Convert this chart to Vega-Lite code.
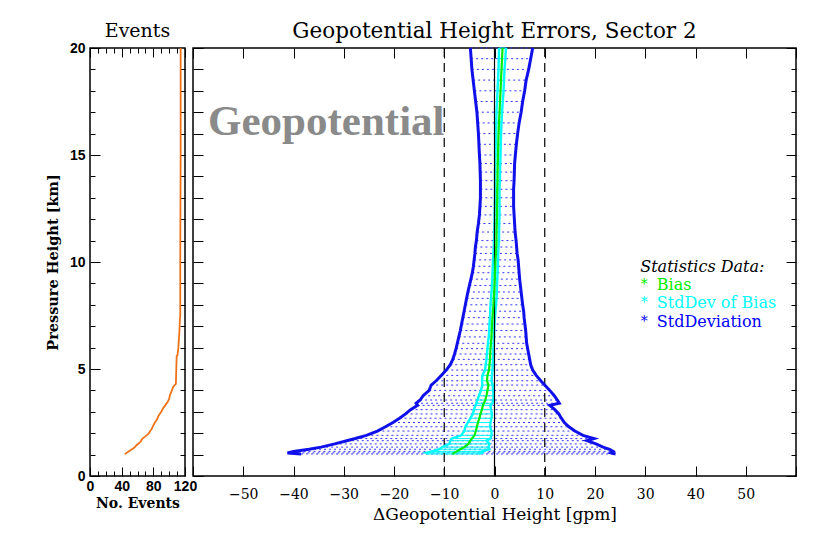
{
  "$schema": "https://vega.github.io/schema/vega-lite/v6.json",
  "background": "white",
  "padding": {"left": 44, "top": 19, "right": 5, "bottom": 5},
  "autosize": {"type": "pad"},
  "bounds": "flush",
  "spacing": 8,
  "config": {
    "view": {"stroke": "black", "strokeWidth": 1.5},
    "axis": {"domain": false, "grid": false, "tickColor": "black", "tickWidth": 1, "labelColor": "black", "titleColor": "black"},
    "title": {"font": "DejaVu Serif", "fontWeight": "normal", "color": "black", "anchor": "middle"}
  },
  "datasets": {
    "prof": [
      {"h": 20, "bl": -4.8, "br": 7.6, "cl": 0.9, "cr": 2.3, "b": 1.6},
      {"h": 19.5, "bl": -4.65, "br": 7.2, "cl": 0.85, "cr": 2.15, "b": 1.5},
      {"h": 19, "bl": -4.5, "br": 6.8, "cl": 0.8, "cr": 2.0, "b": 1.4},
      {"h": 18.5, "bl": -4.25, "br": 6.3, "cl": 0.7, "cr": 1.9, "b": 1.3},
      {"h": 18, "bl": -4.0, "br": 6.0, "cl": 0.6, "cr": 1.8, "b": 1.2},
      {"h": 17.5, "bl": -3.75, "br": 5.6, "cl": 0.5, "cr": 1.65, "b": 1.1},
      {"h": 17, "bl": -3.5, "br": 5.3, "cl": 0.4, "cr": 1.5, "b": 1.0},
      {"h": 16.5, "bl": -3.35, "br": 4.9, "cl": 0.35, "cr": 1.4, "b": 0.9},
      {"h": 16, "bl": -3.2, "br": 4.6, "cl": 0.3, "cr": 1.3, "b": 0.8},
      {"h": 15.5, "bl": -3.1, "br": 4.35, "cl": 0.25, "cr": 1.25, "b": 0.75},
      {"h": 15, "bl": -3.0, "br": 4.15, "cl": 0.2, "cr": 1.2, "b": 0.7},
      {"h": 14.6, "bl": -2.9, "br": 4.0, "cl": 0.15, "cr": 1.15, "b": 0.65},
      {"h": 14.2, "bl": -2.85, "br": 3.95, "cl": 0.1, "cr": 1.1, "b": 0.6},
      {"h": 13.8, "bl": -2.8, "br": 3.9, "cl": 0.1, "cr": 1.05, "b": 0.6},
      {"h": 13.4, "bl": -2.8, "br": 3.8, "cl": 0.1, "cr": 1.0, "b": 0.55},
      {"h": 13.0, "bl": -2.8, "br": 3.8, "cl": 0.1, "cr": 1.0, "b": 0.55},
      {"h": 12.6, "bl": -2.9, "br": 3.8, "cl": 0.05, "cr": 1.0, "b": 0.5},
      {"h": 12.2, "bl": -3.0, "br": 3.9, "cl": 0.0, "cr": 1.0, "b": 0.5},
      {"h": 11.8, "bl": -3.2, "br": 4.0, "cl": 0.0, "cr": 0.95, "b": 0.45},
      {"h": 11.4, "bl": -3.45, "br": 4.1, "cl": -0.05, "cr": 0.9, "b": 0.4},
      {"h": 11.0, "bl": -3.6, "br": 4.3, "cl": -0.1, "cr": 0.9, "b": 0.4},
      {"h": 10.7, "bl": -3.8, "br": 4.4, "cl": -0.15, "cr": 0.8, "b": 0.35},
      {"h": 10.4, "bl": -3.9, "br": 4.5, "cl": -0.2, "cr": 0.75, "b": 0.3},
      {"h": 10.1, "bl": -4.05, "br": 4.7, "cl": -0.3, "cr": 0.7, "b": 0.2},
      {"h": 9.8, "bl": -4.2, "br": 4.8, "cl": -0.35, "cr": 0.65, "b": 0.15},
      {"h": 9.5, "bl": -4.4, "br": 4.9, "cl": -0.4, "cr": 0.6, "b": 0.1},
      {"h": 9.2, "bl": -4.7, "br": 5.0, "cl": -0.45, "cr": 0.55, "b": 0.05},
      {"h": 8.9, "bl": -5.0, "br": 5.15, "cl": -0.5, "cr": 0.5, "b": 0.0},
      {"h": 8.6, "bl": -5.3, "br": 5.3, "cl": -0.6, "cr": 0.45, "b": -0.05},
      {"h": 8.3, "bl": -5.55, "br": 5.45, "cl": -0.7, "cr": 0.4, "b": -0.15},
      {"h": 8.0, "bl": -5.8, "br": 5.6, "cl": -0.8, "cr": 0.3, "b": -0.2},
      {"h": 7.7, "bl": -6.05, "br": 5.8, "cl": -0.85, "cr": 0.2, "b": -0.3},
      {"h": 7.4, "bl": -6.3, "br": 5.9, "cl": -0.9, "cr": 0.1, "b": -0.4},
      {"h": 7.1, "bl": -6.55, "br": 6.05, "cl": -1.0, "cr": 0.0, "b": -0.5},
      {"h": 6.8, "bl": -6.8, "br": 6.2, "cl": -1.05, "cr": -0.05, "b": -0.55},
      {"h": 6.5, "bl": -7.1, "br": 6.3, "cl": -1.15, "cr": -0.1, "b": -0.6},
      {"h": 6.2, "bl": -7.4, "br": 6.4, "cl": -1.3, "cr": -0.15, "b": -0.7},
      {"h": 5.95, "bl": -7.65, "br": 6.6, "cl": -1.4, "cr": -0.2, "b": -0.8},
      {"h": 5.7, "bl": -7.95, "br": 6.8, "cl": -1.5, "cr": -0.25, "b": -0.85},
      {"h": 5.45, "bl": -8.3, "br": 7.0, "cl": -1.6, "cr": -0.3, "b": -0.9},
      {"h": 5.2, "bl": -8.8, "br": 7.2, "cl": -1.75, "cr": -0.35, "b": -1.0},
      {"h": 4.95, "bl": -9.6, "br": 7.6, "cl": -1.9, "cr": -0.4, "b": -1.1},
      {"h": 4.7, "bl": -10.6, "br": 8.3, "cl": -2.4, "cr": -0.5, "b": -1.4},
      {"h": 4.45, "bl": -11.6, "br": 9.2, "cl": -2.5, "cr": -0.6, "b": -1.5},
      {"h": 4.25, "bl": -12.6, "br": 10.0, "cl": -2.4, "cr": -0.35, "b": -1.2},
      {"h": 4.0, "bl": -13.0, "br": 11.0, "cl": -2.7, "cr": -0.3, "b": -1.4},
      {"h": 3.75, "bl": -14.2, "br": 11.9, "cl": -3.1, "cr": -0.2, "b": -1.6},
      {"h": 3.55, "bl": -14.8, "br": 12.5, "cl": -3.4, "cr": -0.25, "b": -1.85},
      {"h": 3.4, "bl": -15.6, "br": 12.9, "cl": -3.6, "cr": -0.4, "b": -2.1},
      {"h": 3.3, "bl": -15.3, "br": 11.0, "cl": -3.8, "cr": -0.8, "b": -2.3},
      {"h": 3.1, "bl": -16.7, "br": 12.0, "cl": -4.1, "cr": -0.7, "b": -2.5},
      {"h": 2.9, "bl": -17.7, "br": 12.8, "cl": -4.3, "cr": -0.5, "b": -2.8},
      {"h": 2.7, "bl": -18.9, "br": 13.3, "cl": -4.8, "cr": -0.6, "b": -3.0},
      {"h": 2.5, "bl": -20.2, "br": 13.9, "cl": -5.3, "cr": -0.8, "b": -3.3},
      {"h": 2.3, "bl": -21.7, "br": 14.8, "cl": -5.8, "cr": -0.9, "b": -3.5},
      {"h": 2.1, "bl": -23.3, "br": 16.0, "cl": -6.0, "cr": -0.6, "b": -3.7},
      {"h": 1.9, "bl": -25.5, "br": 17.6, "cl": -6.6, "cr": -0.6, "b": -4.0},
      {"h": 1.75, "bl": -27.7, "br": 19.8, "cl": -8.5, "cr": -0.8, "b": -4.5},
      {"h": 1.65, "bl": -29.4, "br": 18.4, "cl": -8.8, "cr": -1.6, "b": -4.8},
      {"h": 1.5, "bl": -31.8, "br": 20.2, "cl": -9.0, "cr": -1.0, "b": -5.2},
      {"h": 1.35, "bl": -34.5, "br": 21.6, "cl": -10.4, "cr": -1.2, "b": -6.0},
      {"h": 1.25, "bl": -36.9, "br": 22.9, "cl": -11.0, "cr": -1.0, "b": -6.8},
      {"h": 1.15, "bl": -40.0, "br": 23.6, "cl": -12.5, "cr": -2.5, "b": -7.5},
      {"h": 1.08, "bl": -41.2, "br": 23.2, "cl": -13.6, "cr": -2.4, "b": -8.0},
      {"h": 1.03, "bl": -38.5, "br": 24.1, "cl": -13.0, "cr": -3.2, "b": -8.4}
    ],
    "ev": [
      {"h": 1.03, "n": 44}, {"h": 1.1, "n": 47}, {"h": 1.2, "n": 51}, {"h": 1.3, "n": 55},
      {"h": 1.36, "n": 57}, {"h": 1.45, "n": 59}, {"h": 1.51, "n": 61}, {"h": 1.6, "n": 64},
      {"h": 1.74, "n": 66}, {"h": 1.85, "n": 70}, {"h": 1.98, "n": 74}, {"h": 2.1, "n": 76},
      {"h": 2.2, "n": 78}, {"h": 2.37, "n": 80}, {"h": 2.5, "n": 82}, {"h": 2.6, "n": 84},
      {"h": 2.84, "n": 87}, {"h": 3.0, "n": 90}, {"h": 3.15, "n": 92}, {"h": 3.3, "n": 95},
      {"h": 3.46, "n": 98}, {"h": 3.6, "n": 100}, {"h": 3.78, "n": 101}, {"h": 3.95, "n": 103},
      {"h": 4.16, "n": 105}, {"h": 4.25, "n": 107}, {"h": 4.31, "n": 108.5}, {"h": 5.0, "n": 109},
      {"h": 5.6, "n": 109.5}, {"h": 5.65, "n": 110.5}, {"h": 5.95, "n": 111.5}, {"h": 6.5, "n": 112.5},
      {"h": 6.8, "n": 113}, {"h": 7.3, "n": 113.5}, {"h": 7.5, "n": 114}, {"h": 10, "n": 114},
      {"h": 15, "n": 114.5}, {"h": 20, "n": 114.5}
    ],
    "refs": [{"x": -10, "k": "dash"}, {"x": 10, "k": "dash"}, {"x": 0, "k": "zero"}],
    "legend": [
      {"s": "Bias", "y": 8.93},
      {"s": "StdDev of Bias", "y": 8.08},
      {"s": "StdDeviation", "y": 7.2}
    ],
    "notes": [
      {"t": "Geopotential", "x": -57, "y": 15.95, "k": "mark"},
      {"t": "Statistics Data:", "x": 29.0, "y": 9.77, "k": "head"}
    ]
  },
  "hconcat": [
    {
      "width": 95,
      "height": 428,
      "title": {"text": "Events", "fontSize": 19, "offset": 0},
      "layer": [
        {
          "data": {"name": "ev"},
          "mark": {"type": "line", "color": "#ee7318", "strokeWidth": 1.8},
          "encoding": {
            "x": {"field": "n", "type": "quantitative", "scale": {"domain": [0, 120], "nice": false},
              "axis": {"orient": "bottom", "values": [0, 40, 80, 120], "tickSize": -9, "labelPadding": 12, "labelFlush": false, "labelOverlap": false,
                "labelFont": "Liberation Sans", "labelFontWeight": "bold", "labelFontSize": 14,
                "title": "No. Events", "titleFont": "DejaVu Serif", "titleFontWeight": "bold", "titleFontSize": 14, "titlePadding": 3}},
            "y": {"field": "h", "type": "quantitative", "scale": {"domain": [0, 20], "nice": false},
              "axis": {"orient": "left", "values": [0, 5, 10, 15, 20], "tickSize": -10, "labelPadding": 15, "labelFlush": false,
                "labelFont": "Liberation Sans", "labelFontWeight": "bold", "labelFontSize": 14,
                "title": "Pressure Height [km]", "titleFont": "DejaVu Serif", "titleFontWeight": "bold", "titleFontSize": 14.5, "titlePadding": 9}},
            "order": {"field": "h", "type": "quantitative"}
          }
        },
        {
          "data": {"name": "ev"},
          "mark": {"type": "point", "opacity": 0},
          "encoding": {
            "x": {"field": "n", "type": "quantitative", "axis": {"orient": "bottom", "values": [10, 20, 30, 50, 60, 70, 90, 100, 110], "tickSize": -5, "labels": false, "title": null}},
            "y": {"field": "h", "type": "quantitative", "axis": {"orient": "left", "values": [1, 2, 3, 4, 6, 7, 8, 9, 11, 12, 13, 14, 16, 17, 18, 19], "tickSize": -5, "labels": false, "title": null}}
          }
        },
        {
          "data": {"name": "ev"},
          "mark": {"type": "point", "opacity": 0},
          "encoding": {
            "x": {"field": "n", "type": "quantitative", "axis": {"orient": "top", "values": [0, 40, 80, 120], "tickSize": -9, "labels": false, "title": null}},
            "y": {"field": "h", "type": "quantitative", "axis": {"orient": "right", "values": [1, 2, 3, 4, 5, 6, 7, 8, 9, 10, 11, 12, 13, 14, 15, 16, 17, 18, 19], "tickSize": -5, "labels": false, "title": null}}
          }
        },
        {
          "data": {"name": "ev"},
          "mark": {"type": "point", "opacity": 0},
          "encoding": {
            "x": {"field": "n", "type": "quantitative", "axis": {"orient": "top", "values": [10, 20, 30, 50, 60, 70, 90, 100, 110], "tickSize": -5, "labels": false, "title": null}},
            "y": {"field": "h", "type": "quantitative", "axis": null}
          }
        }
      ],
      "resolve": {"axis": {"x": "independent", "y": "independent"}}
    },
    {
      "width": 603,
      "height": 428,
      "title": {"text": "Geopotential Height Errors, Sector 2", "fontSize": 21.5, "offset": 0},
      "layer": [
        {
          "data": {"name": "prof"},
          "mark": {"type": "rule", "color": "#3535ff", "strokeWidth": 1, "strokeDash": [2, 3]},
          "encoding": {
            "x": {"field": "bl", "type": "quantitative", "scale": {"domain": [-60, 60], "nice": false},
              "axis": {"orient": "bottom", "values": [-60, -50, -40, -30, -20, -10, 0, 10, 20, 30, 40, 50, 60], "tickSize": -10, "labelPadding": 21, "labelFlush": false,
                "labelExpr": "abs(datum.value) == 60 ? '' : datum.label",
                "labelFont": "DejaVu Serif", "labelFontSize": 14, "labelFontWeight": "normal",
                "title": "ΔGeopotential Height [gpm]", "titleFont": "DejaVu Serif", "titleFontSize": 17, "titleFontWeight": "normal", "titlePadding": 5}},
            "x2": {"field": "br"},
            "y": {"field": "h", "type": "quantitative", "scale": {"domain": [0, 20], "nice": false},
              "axis": {"orient": "left", "values": [0, 5, 10, 15, 20], "tickSize": -10, "labels": false, "title": null}}
          }
        },
        {
          "data": {"name": "prof"},
          "mark": {"type": "rule", "color": "#00ffff", "strokeWidth": 1},
          "encoding": {
            "x": {"field": "cl", "type": "quantitative",
              "axis": {"orient": "top", "values": [-60, -50, -40, -30, -20, -10, 0, 10, 20, 30, 40, 50, 60], "tickSize": -10, "labels": false, "title": null}},
            "x2": {"field": "cr"},
            "y": {"field": "h", "type": "quantitative",
              "axis": {"orient": "right", "values": [0, 5, 10, 15, 20], "tickSize": -10, "labels": false, "title": null}}
          }
        },
        {
          "data": {"name": "prof"},
          "mark": {"type": "point", "opacity": 0},
          "encoding": {
            "x": {"field": "b", "type": "quantitative", "axis": null},
            "y": {"field": "h", "type": "quantitative", "axis": {"orient": "left", "values": [1, 2, 3, 4, 6, 7, 8, 9, 11, 12, 13, 14, 16, 17, 18, 19], "tickSize": -10, "labels": false, "title": null}}
          }
        },
        {
          "data": {"name": "prof"},
          "mark": {"type": "point", "opacity": 0},
          "encoding": {
            "x": {"field": "b", "type": "quantitative", "axis": null},
            "y": {"field": "h", "type": "quantitative", "axis": {"orient": "right", "values": [1, 2, 3, 4, 6, 7, 8, 9, 11, 12, 13, 14, 16, 17, 18, 19], "tickSize": -5, "labels": false, "title": null}}
          }
        },
        {
          "data": {"name": "refs"},
          "transform": [{"filter": "datum.k == 'dash'"}],
          "mark": {"type": "rule", "color": "black", "strokeWidth": 1.2, "strokeDash": [9, 6]},
          "encoding": {"x": {"field": "x", "type": "quantitative", "axis": null}}
        },
        {
          "data": {"name": "prof"},
          "transform": [{"fold": ["bl", "br"], "as": ["k", "v"]}],
          "mark": {"type": "line", "color": "#1010ea", "strokeWidth": 3},
          "encoding": {
            "x": {"field": "v", "type": "quantitative", "axis": null},
            "y": {"field": "h", "type": "quantitative", "axis": null},
            "detail": {"field": "k"},
            "order": {"field": "h", "type": "quantitative"}
          }
        },
        {
          "data": {"name": "prof"},
          "transform": [{"fold": ["cl", "cr"], "as": ["k", "v"]}],
          "mark": {"type": "line", "color": "#00ffff", "strokeWidth": 2.4},
          "encoding": {
            "x": {"field": "v", "type": "quantitative", "axis": null},
            "y": {"field": "h", "type": "quantitative", "axis": null},
            "detail": {"field": "k"},
            "order": {"field": "h", "type": "quantitative"}
          }
        },
        {
          "data": {"name": "refs"},
          "transform": [{"filter": "datum.k == 'zero'"}],
          "mark": {"type": "rule", "color": "black", "strokeWidth": 1.2},
          "encoding": {"x": {"field": "x", "type": "quantitative", "axis": null}}
        },
        {
          "data": {"name": "prof"},
          "mark": {"type": "line", "color": "#00ee00", "strokeWidth": 2.2},
          "encoding": {
            "x": {"field": "b", "type": "quantitative", "axis": null},
            "y": {"field": "h", "type": "quantitative", "axis": null},
            "order": {"field": "h", "type": "quantitative"}
          }
        },
        {
          "data": {"name": "notes"},
          "transform": [{"filter": "datum.k == 'mark'"}],
          "mark": {"type": "text", "font": "Liberation Serif", "fontWeight": "bold", "fontSize": 43, "color": "#8a8a8a", "align": "left", "baseline": "alphabetic"},
          "encoding": {
            "x": {"field": "x", "type": "quantitative", "axis": null},
            "y": {"field": "y", "type": "quantitative", "axis": null},
            "text": {"field": "t"}
          }
        },
        {
          "data": {"name": "notes"},
          "transform": [{"filter": "datum.k == 'head'"}],
          "mark": {"type": "text", "font": "DejaVu Serif", "fontStyle": "italic", "fontSize": 16, "color": "black", "align": "left", "baseline": "middle"},
          "encoding": {
            "x": {"field": "x", "type": "quantitative", "axis": null},
            "y": {"field": "y", "type": "quantitative", "axis": null},
            "text": {"field": "t"}
          }
        },
        {
          "data": {"name": "legend"},
          "mark": {"type": "text", "font": "DejaVu Serif", "fontSize": 14, "align": "center", "baseline": "middle"},
          "encoding": {
            "x": {"datum": 29.8, "type": "quantitative", "axis": null},
            "y": {"field": "y", "type": "quantitative", "axis": null},
            "text": {"value": "*"},
            "color": {"field": "s", "type": "nominal", "scale": {"domain": ["Bias", "StdDev of Bias", "StdDeviation"], "range": ["#00ee00", "#00ffff", "#0000ff"]}, "legend": null}
          }
        },
        {
          "data": {"name": "legend"},
          "mark": {"type": "text", "font": "DejaVu Serif", "fontSize": 16, "align": "left", "baseline": "middle"},
          "encoding": {
            "x": {"datum": 32.3, "type": "quantitative", "axis": null},
            "y": {"field": "y", "type": "quantitative", "axis": null},
            "text": {"field": "s"},
            "color": {"field": "s", "type": "nominal", "scale": {"domain": ["Bias", "StdDev of Bias", "StdDeviation"], "range": ["#00ee00", "#00ffff", "#0000ff"]}, "legend": null}
          }
        }
      ],
      "resolve": {"axis": {"x": "independent", "y": "independent"}}
    }
  ]
}
